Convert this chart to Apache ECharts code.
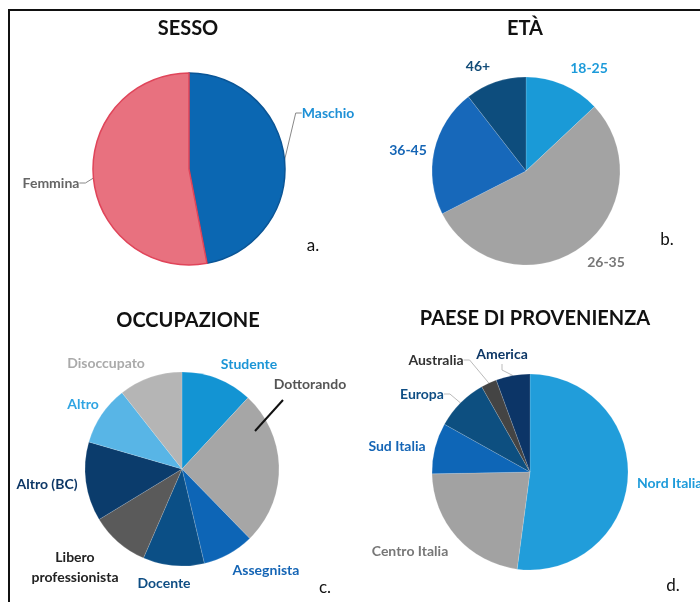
<!DOCTYPE html>
<html>
<head>
<meta charset="utf-8">
<script src="https://cdn.jsdelivr.net/npm/echarts@6/dist/echarts.min.js"></script>
<style>
  html, body { margin: 0; padding: 0; background: #fff; }
  #main { width: 700px; height: 602px; }
</style>
</head>
<body>
<div id="main"></div>
<script>
// dati (percentuali stimate)
var sessoNames = ['Maschio', 'Femmina'];
var sessoValues = [47, 53];

var etaNames = ['18-25', '26-35', '36-45', '46+'];
var etaValues = [13, 54.5, 22, 10.5];

var occNames = ['Studente', 'Dottorando', 'Assegnista', 'Docente', 'Libero professionista', 'Altro (BC)', 'Altro', 'Disoccupato'];
var occValues = [11.9, 25.8, 8.6, 10.2, 9.8, 13.2, 9.9, 10.6];

var paeseNames = ['Nord Italia', 'Centro Italia', 'Sud Italia', 'Europa', 'Australia', 'America'];
var paeseValues = [52.1, 22.6, 8.4, 8.7, 2.6, 5.6];

var titles = ['SESSO', 'ETÀ', 'OCCUPAZIONE', 'PAESE DI PROVENIENZA'];
var letters = ['a.', 'b.', 'c.', 'd.'];

// stili
var sliceColors = [
  ['#0b67b2', '#e8717f'],
  ['#1a9ad7', '#a3a3a3', '#1768ba', '#0d4d7d'],
  ['#1394d3', '#a6a6a6', '#0d65b6', '#0b4f86', '#5a5a5a', '#0b3c6c', '#58b5e6', '#b5b5b5'],
  ['#219dda', '#a2a2a2', '#0e66b7', '#0d4f80', '#444444', '#0c3567']
];
var borderColors = [
  ['#0a5596', '#e0455a'],
  [], [], []
];
var labelColors = [
  ['#1e90d6', '#666666'],
  ['#1d9bda', '#777777', '#1565b5', '#124c78'],
  ['#1b95d6', '#555555', '#1565b5', '#0f4e84', '#222222', '#0d3766', '#2fa4e2', '#aaaaaa'],
  ['#1e9bda', '#777777', '#1565b5', '#0f4e84', '#333333', '#0d3766']
];
// quali etichette hanno la linea guida
var lineColors = [
  ['#888', '#888'],
  [null, null, null, null],
  [null, null, null, null, null, null, null, null],
  [null, null, null, '#bbb', '#bbb', '#bbb']
];
var labelPos = [
  [[328, 113], [51, 183]],
  [[589, 68], [606, 262], [408, 150], [478, 66]],
  [[249, 364], [310, 384], [266, 570], [164, 583], [75, 567], [47, 484], [83, 404], [106, 363]],
  [[637, 483, 'left'], [410, 551], [397, 446], [422, 394], [436, 360], [502, 354]]
];
var centers = [[189, 169], [526, 171], [182, 469], [530, 472]];
var radii = [96, 94, 97, 98];
var titlePos = [[188, 19], [525, 19], [188, 311], [535, 309]];
var letterPos = [[313, 246], [667, 240], [325, 588], [673, 586]];

var allNames = [sessoNames, etaNames, occNames, paeseNames];
var allValues = [sessoValues, etaValues, occValues, paeseValues];

var series = [];
for (var s = 0; s < 4; s++) {
  var data = [];
  for (var i = 0; i < allNames[s].length; i++) {
    var lc = lineColors[s][i];
    data.push({
      name: allNames[s][i],
      value: allValues[s][i],
      itemStyle: {
        color: sliceColors[s][i],
        borderColor: borderColors[s][i] || 'rgba(255,255,255,0.25)',
        borderWidth: borderColors[s][i] ? 1.5 : 0.6
      },
      label: { color: labelColors[s][i] },
      labelLine: lc ? { show: true, lineStyle: { color: lc, width: 1 } } : { show: false }
    });
  }
  series.push({
    type: 'pie',
    center: centers[s],
    radius: radii[s],
    startAngle: 90,
    clockwise: true,
    avoidLabelOverlap: false,
    silent: true,
    label: {
      show: true,
      position: 'outside',
      fontFamily: 'Lato',
      fontWeight: 'bold',
      fontSize: 14,
      lineHeight: 20,
      formatter: function (p) {
        return p.name === 'Libero professionista' ? 'Libero\nprofessionista' : p.name;
      }
    },
    labelLine: { show: true, length: 8, length2: 6 },
    labelLayout: (function (idx) {
      return function (p) {
        var pos = labelPos[idx][p.dataIndex];
        return { x: pos[0], y: pos[1], align: pos[2] || 'center', verticalAlign: 'middle' };
      };
    })(s),
    data: data
  });
}

var titleList = titles.map(function (t, i) {
  return {
    text: t,
    left: titlePos[i][0],
    top: titlePos[i][1],
    textAlign: 'center',
    padding: 0,
    textStyle: { fontFamily: 'Lato', fontWeight: 'bold', fontSize: 20, color: '#111' }
  };
});

var graphics = [{
  type: 'polyline',
  shape: { points: [[9, 602], [9, 10], [700, 10]] },
  style: { stroke: '#111', lineWidth: 2, fill: null }
}, {
  // linea guida di "Dottorando"
  type: 'line',
  shape: { x1: 255, y1: 431, x2: 283, y2: 400 },
  style: { stroke: '#111', lineWidth: 2 },
  z: 10
}];
letters.forEach(function (l, i) {
  graphics.push({
    type: 'text',
    x: letterPos[i][0],
    y: letterPos[i][1],
    style: {
      text: l, fill: '#111', fontFamily: 'Lato', fontSize: 17,
      textAlign: 'center', textVerticalAlign: 'middle'
    }
  });
});

var myChart = echarts.init(document.getElementById('main'));
myChart.setOption({
  animation: false,
  backgroundColor: '#fff',
  title: titleList,
  graphic: graphics,
  series: series
});
</script>
</body>
</html>
